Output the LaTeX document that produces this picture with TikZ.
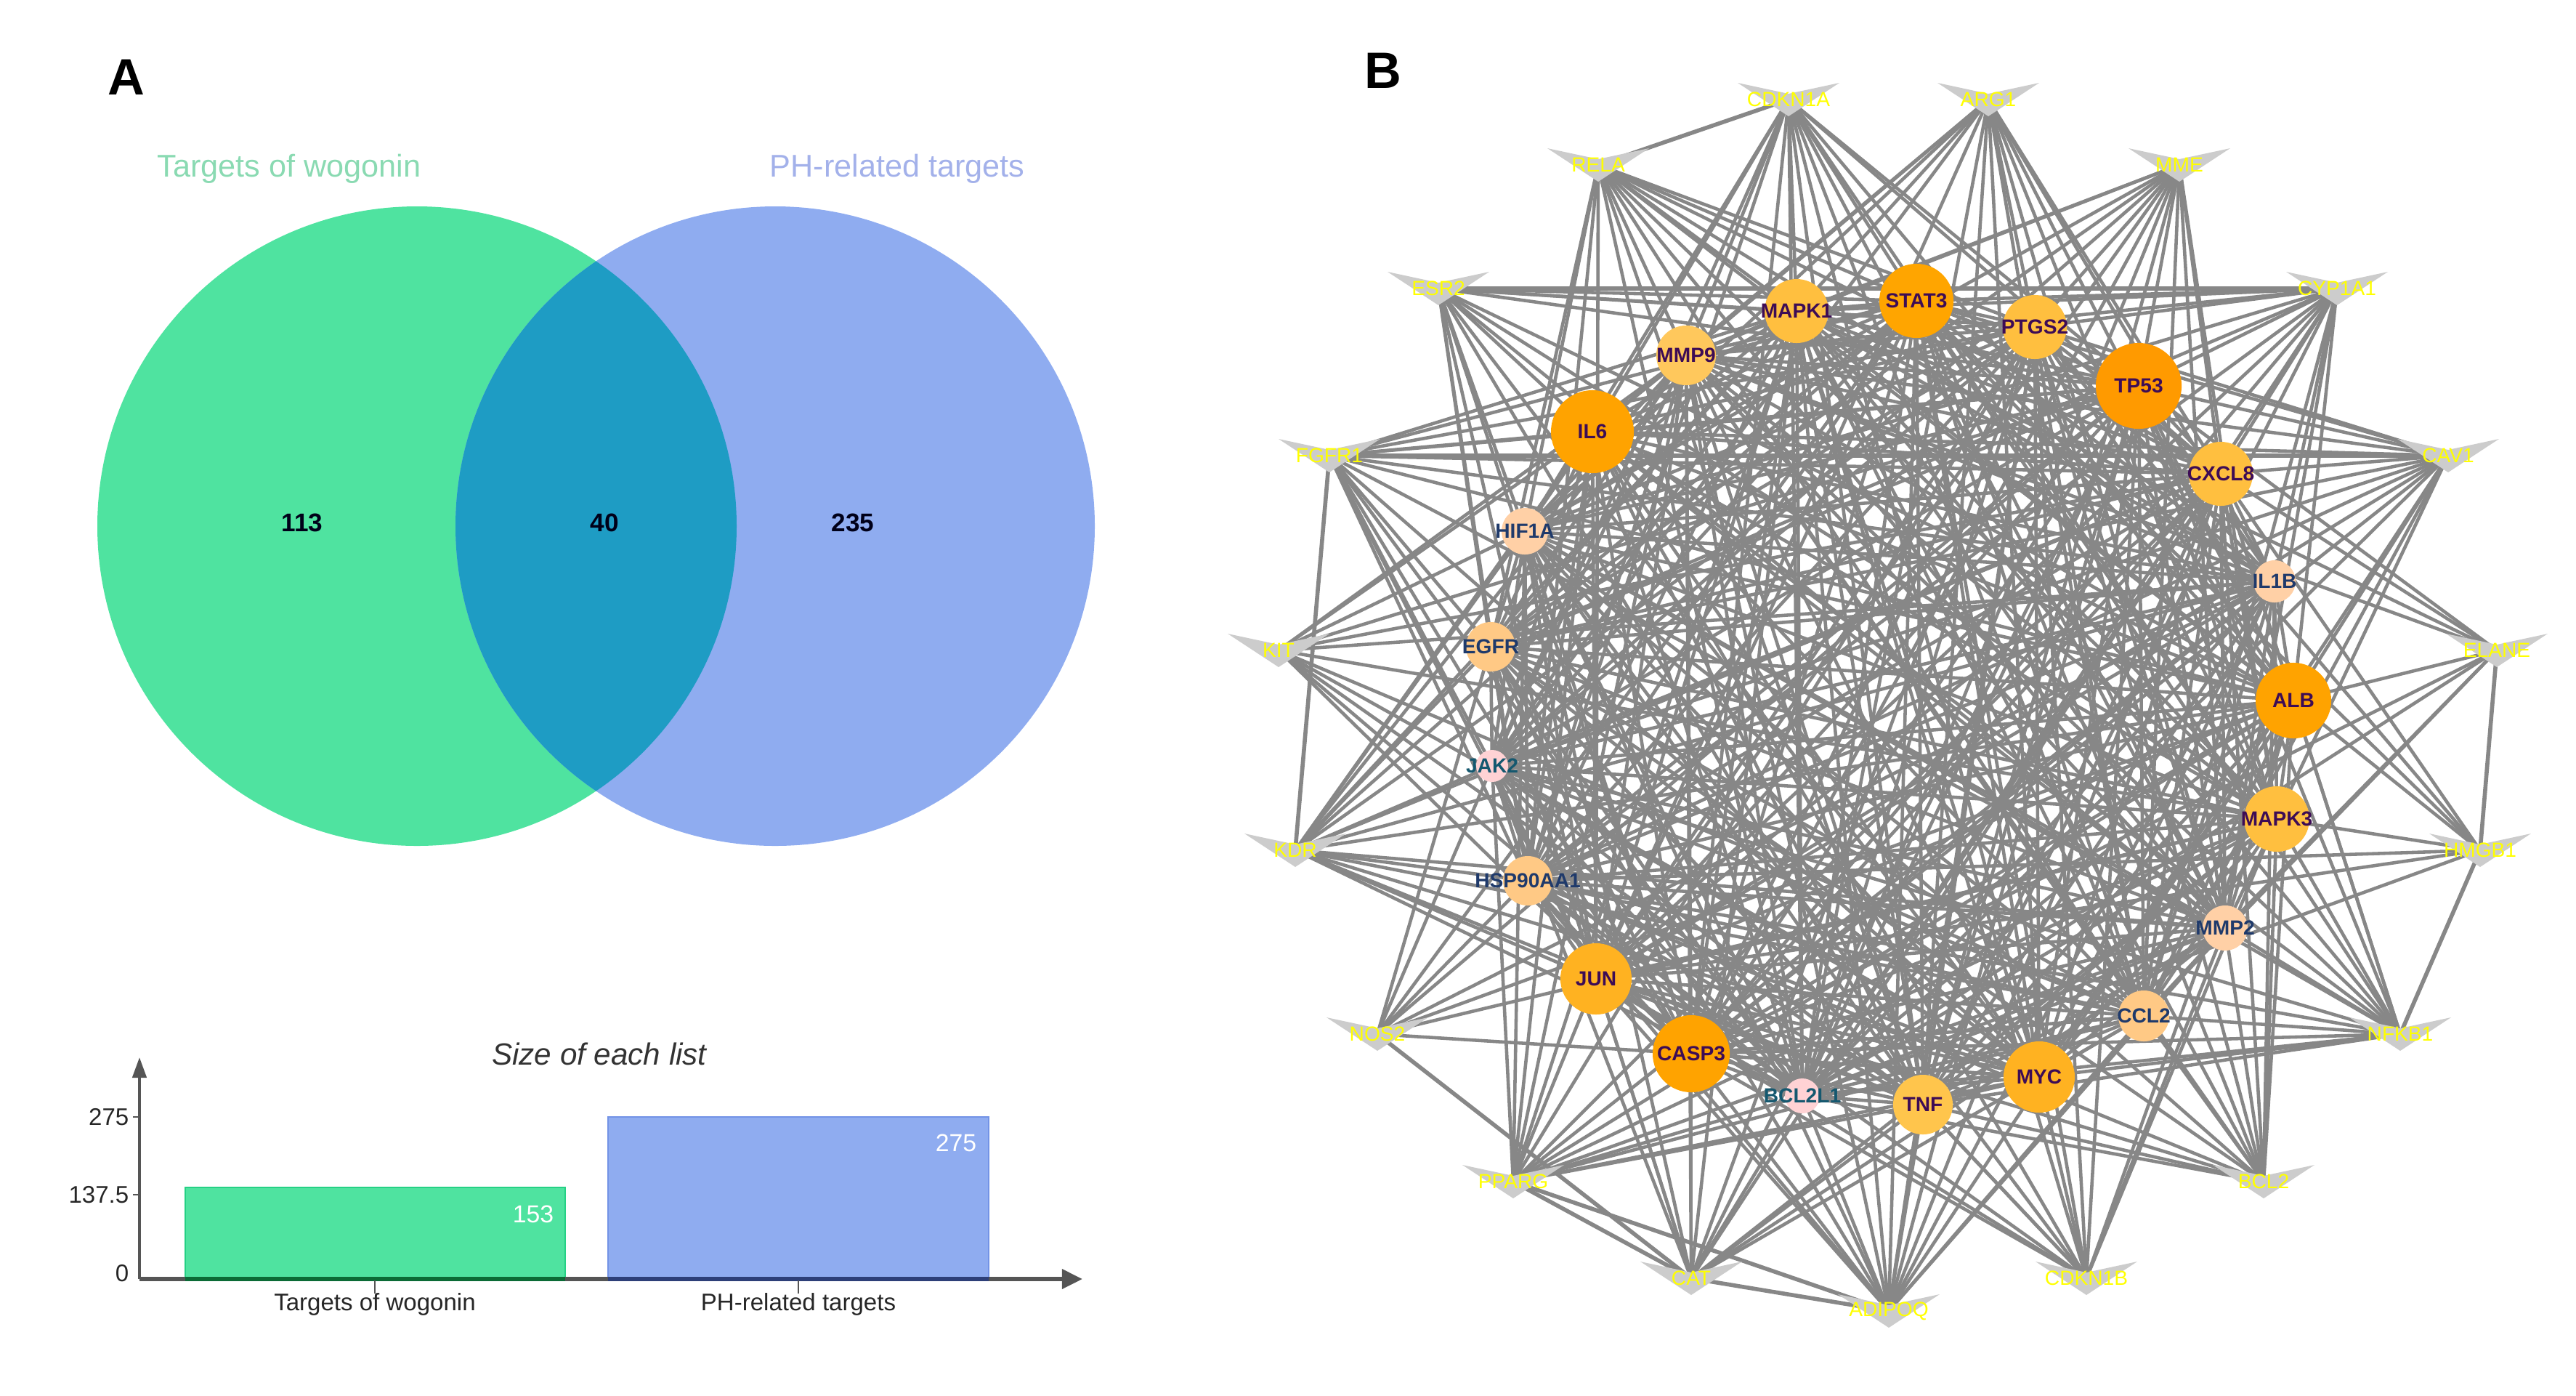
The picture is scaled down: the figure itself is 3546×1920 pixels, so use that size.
\documentclass[tikz,border=0pt]{standalone}
\usepackage{fontspec}
\setmainfont{Liberation Sans}
\usetikzlibrary{arrows.meta}
\pgfdeclarelayer{bg}
\pgfsetlayers{bg,main}
\definecolor{vgreen}{HTML}{4FE3A0}
\definecolor{vblue}{HTML}{8FACF0}
\definecolor{vover}{HTML}{1E9CC4}
\definecolor{tgreen}{HTML}{8ADAB2}
\definecolor{tblue}{HTML}{A3B1EA}
\definecolor{gbord}{HTML}{25D185}
\definecolor{bbord}{HTML}{7393E6}
\definecolor{gdark}{HTML}{0B6B36}
\definecolor{bdark}{HTML}{2D3F78}
\definecolor{axc}{HTML}{555555}
\definecolor{edgec}{HTML}{878787}
\definecolor{trig}{HTML}{CCCCCC}
\definecolor{ylab}{HTML}{FFFF00}
\definecolor{labpurp}{HTML}{3D0C55}
\definecolor{labnavy}{HTML}{1F3A6B}
\definecolor{labteal}{HTML}{15586F}
\definecolor{oA}{HTML}{FF9A00}
\definecolor{oB}{HTML}{FFA500}
\definecolor{oC}{HTML}{FFA300}
\definecolor{oD}{HTML}{FFB221}
\definecolor{oE}{HTML}{FFBF3F}
\definecolor{oF}{HTML}{FFC54C}
\definecolor{oG}{HTML}{FFC85C}
\definecolor{oH}{HTML}{FFC985}
\definecolor{oI}{HTML}{FFD0A6}
\definecolor{oP}{HTML}{FFD2D4}
\tikzset{
  lnk/.style={draw=edgec, line width=1.3pt},
  lnkthick/.style={draw=edgec, line width=1.6pt},
  outl/.style={text=ylab, font=\fontsize{8}{9}\selectfont, inner sep=0pt},
  inl/.style={font=\bfseries\fontsize{8}{9}\selectfont, inner sep=0pt},
  tri/.style={fill=trig},
  lettr/.style={font=\bfseries\fontsize{20}{22}\selectfont, inner sep=0pt},
  vtitle/.style={font=\fontsize{12.3}{14}\selectfont, inner sep=0pt},
  vnum/.style={font=\bfseries\fontsize{10}{12}\selectfont, inner sep=0pt, text=black!90!blue},
  btitle/.style={font=\itshape\fontsize{12}{14}\selectfont, inner sep=0pt, text=black!80},
  blab/.style={font=\fontsize{9.4}{11}\selectfont, inner sep=0pt, text=black!85},
  bval/.style={font=\fontsize{9.6}{11}\selectfont, inner sep=0pt, text=white},
  axis/.style={draw=axc, line width=1.1pt}
}
\newcommand{\innode}[6]{\node[circle,fill=#5,minimum size=#4*0.02cm,inner sep=0pt,label={[inl,text=#6]center:#1}] (#1) at (#2,#3) {};}
\newcommand{\outnode}[3]{\fill[tri] (#2-70,#3-23) -- (#2,#3-8) -- (#2+70,#3-23) -- (#2,#3+23) -- cycle; \node[outl] (#1) at (#2,#3) {#1};}
\begin{document}
\begin{tikzpicture}[x=0.01cm,y=-0.01cm]
\useasboundingbox (0,0) rectangle (3546,1920);
% ---------------- Panel A : Venn ----------------
\node[lettr] (labA) at (174,106) {A};
\node[vtitle, text=tgreen] (tA) at (398,232) {Targets of wogonin};
\node[vtitle, text=tblue] (tB) at (1235,232) {PH-related targets};
\fill[vgreen] (574,724) circle[radius=440];
\fill[vblue] (1067,724) circle[radius=440];
\begin{scope}
  \clip (574,724) circle[radius=440];
  \fill[vover] (1067,724) circle[radius=440];
\end{scope}
\node[vnum] (n113) at (416,719) {113};
\node[vnum] (n40) at (832,719) {40};
\node[vnum] (n235) at (1174,719) {235};
% ---------------- Panel A : bar chart ----------------
\node[btitle] (bt) at (825,1450) {Size of each list};
\filldraw[fill=vgreen, draw=gbord, line width=0.8pt] (255,1634) rectangle (778,1758);
\filldraw[fill=vblue, draw=bbord, line width=0.8pt] (837,1537) rectangle (1361,1758);
\coordinate (yo) at (192,1760);
\coordinate (ytop) at (192,1455);
\coordinate (xend) at (1490,1760);
\draw[axis, -{Triangle[length=8pt,width=5.5pt]}] (yo) -- (ytop);
\draw[axis, line width=1.6pt, -{Triangle[length=8pt,width=7.5pt]}] (yo) -- (xend);
\draw[draw=gdark, line width=1.6pt] (255,1760) -- (778,1760);
\draw[draw=bdark, line width=1.6pt] (837,1760) -- (1361,1760);
\draw[axis, line width=0.6pt] (183,1537) -- (192,1537);
\draw[axis, line width=0.6pt] (183,1644) -- (192,1644);
\draw[axis, line width=0.6pt] (516,1762) -- (516,1780);
\draw[axis, line width=0.6pt] (1099,1762) -- (1099,1780);
\node[blab, anchor=east] (y275) at (178,1537) {275};
\node[blab, anchor=east] (y137) at (178,1644) {137.5};
\node[blab, anchor=east] (y0) at (178,1752) {0};
\node[bval] (v153) at (734,1671) {153};
\node[bval] (v275) at (1316,1573) {275};
\node[blab] (c1) at (516,1795) {Targets of wogonin};
\node[blab] (c2) at (1099,1795) {PH-related targets};
% ---------------- Panel B : network ----------------
\node[lettr] (labB) at (1904,97) {B};
\outnode{CDKN1A}{2462}{137}
\outnode{ARG1}{2737}{137}
\outnode{RELA}{2200}{227}
\outnode{MME}{3000}{227}
\outnode{ESR2}{1980}{397}
\outnode{CYP1A1}{3217}{397}
\outnode{FGFR1}{1830}{627}
\outnode{CAV1}{3370}{627}
\outnode{KIT}{1760}{895}
\outnode{ELANE}{3437}{895}
\outnode{KDR}{1783}{1170}
\outnode{HMGB1}{3414}{1170}
\outnode{NOS2}{1896}{1423}
\outnode{NFKB1}{3304}{1423}
\outnode{PPARG}{2083}{1626}
\outnode{BCL2}{3116}{1626}
\outnode{CAT}{2328}{1759}
\outnode{CDKN1B}{2872}{1759}
\outnode{ADIPOQ}{2600}{1804}
\innode{STAT3}{2638}{414}{51}{oB}{labpurp}
\innode{MAPK1}{2473}{428}{44}{oE}{labpurp}
\innode{PTGS2}{2801}{450}{44}{oE}{labpurp}
\innode{MMP9}{2321}{489}{41}{oG}{labpurp}
\innode{TP53}{2944}{531}{59}{oA}{labpurp}
\innode{IL6}{2192}{594}{57}{oC}{labpurp}
\innode{CXCL8}{3057}{652}{44}{oE}{labpurp}
\innode{HIF1A}{2099}{731}{32}{oI}{labnavy}
\innode{IL1B}{3131}{800}{29}{oI}{labnavy}
\innode{EGFR}{2052}{890}{34}{oH}{labnavy}
\innode{ALB}{3157}{964}{52}{oC}{labpurp}
\innode{JAK2}{2054}{1054}{22}{oP}{labteal}
\innode{MAPK3}{3134}{1127}{45}{oE}{labpurp}
\innode{HSP90AA1}{2103}{1212}{34}{oH}{labnavy}
\innode{MMP2}{3063}{1277}{31}{oI}{labnavy}
\innode{JUN}{2197}{1347}{49}{oD}{labpurp}
\innode{CCL2}{2951}{1398}{35}{oH}{labnavy}
\innode{CASP3}{2328}{1450}{53}{oC}{labpurp}
\innode{MYC}{2807}{1482}{49}{oD}{labpurp}
\innode{BCL2L1}{2481}{1508}{24}{oP}{labteal}
\innode{TNF}{2647}{1520}{41}{oF}{labpurp}
\begin{pgfonlayer}{bg}
  \foreach \a [count=\i] in {STAT3,MAPK1,PTGS2,MMP9,TP53,IL6,CXCL8,HIF1A,IL1B,EGFR,ALB,JAK2,MAPK3,HSP90AA1,MMP2,JUN,CCL2,CASP3,MYC,BCL2L1,TNF}{
    \foreach \b [count=\j] in {STAT3,MAPK1,PTGS2,MMP9,TP53,IL6,CXCL8,HIF1A,IL1B,EGFR,ALB,JAK2,MAPK3,HSP90AA1,MMP2,JUN,CCL2,CASP3,MYC,BCL2L1,TNF}{
      \ifnum\j>\i \draw[lnk] (\a.center) -- (\b.center);\fi
    }
  }
  \foreach \o [count=\i] in {CDKN1A,ARG1,RELA,MME,ESR2,CYP1A1,FGFR1,CAV1,KIT,ELANE,KDR,HMGB1,NOS2,NFKB1,PPARG,BCL2,CAT,CDKN1B,ADIPOQ}{
    \foreach \b [count=\j] in {STAT3,MAPK1,PTGS2,MMP9,TP53,IL6,CXCL8,HIF1A,IL1B,EGFR,ALB,JAK2,MAPK3,HSP90AA1,MMP2,JUN,CCL2,CASP3,MYC,BCL2L1,TNF}{
      \pgfmathtruncatemacro{\k}{mod(3*\i*\i+5*\j*\j+7*\i*\j+\i+2*\j,13)}
      \ifnum\k<9 \draw[lnk] (\o.center) -- (\b.center);\fi
    }
  }
  \foreach \p/\q in {RELA/CDKN1A,ESR2/CYP1A1,FGFR1/CAV1,FGFR1/KDR,ELANE/HMGB1,HMGB1/NFKB1,CAT/ADIPOQ,PPARG/ADIPOQ,PPARG/CAT,NOS2/CAT}{
    \draw[lnkthick] (\p.center) -- (\q.center);
  }
\end{pgfonlayer}
\end{tikzpicture}
\end{document}
